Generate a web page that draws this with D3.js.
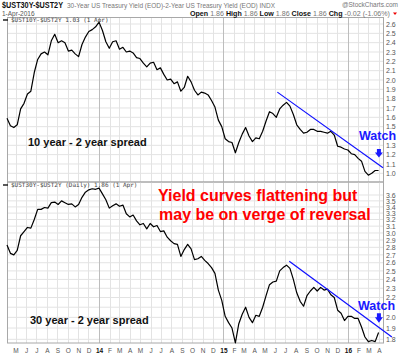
<!DOCTYPE html>
<html><head><meta charset="utf-8">
<script src="https://cdn.jsdelivr.net/npm/d3@7"></script>
<style>body{margin:0;background:#fff} svg{display:block}</style>
</head><body>
<svg id="c" width="400" height="358"></svg>
<script>
// ---------- DATA ----------
const startDate = "2013-04-06";   // first sample
const stepDays = 10;              // sample spacing (days)
const spread10y2y = [
 1.59,1.51,1.49,1.52,1.69,1.75,1.85,1.88,2.08,2.22,
 2.28,2.30,2.27,2.42,2.49,2.40,2.42,2.40,2.31,2.32,
 2.28,2.25,2.38,2.46,2.52,2.54,2.57,2.62,2.53,2.41,
 2.34,2.41,2.42,2.33,2.35,2.30,2.31,2.29,2.24,2.23,
 2.18,2.14,2.18,2.19,2.11,2.13,2.06,2.00,2.01,1.96,
 1.98,1.88,1.92,2.04,1.98,1.89,1.84,1.87,1.86,1.84,
 1.78,1.71,1.57,1.50,1.37,1.34,1.33,1.22,1.33,1.42,
 1.49,1.40,1.34,1.38,1.37,1.45,1.56,1.66,1.64,1.60,
 1.69,1.73,1.76,1.72,1.63,1.52,1.47,1.43,1.44,1.47,
 1.47,1.45,1.45,1.44,1.43,1.45,1.41,1.29,1.28,1.26,
 1.25,1.21,1.20,1.16,1.13,1.02,0.98,1.00,1.03,1.03
];
const spread30y2y = [
 2.83,2.72,2.70,2.76,2.96,3.02,3.08,3.07,3.20,3.36,
 3.36,3.39,3.38,3.47,3.48,3.44,3.50,3.47,3.44,3.45,
 3.40,3.44,3.56,3.65,3.69,3.71,3.70,3.72,3.62,3.52,
 3.38,3.42,3.45,3.41,3.43,3.29,3.24,3.27,3.18,3.12,
 3.14,3.06,3.14,3.09,3.11,3.02,3.03,2.94,2.89,2.85,
 2.84,2.68,2.77,2.84,2.78,2.64,2.65,2.68,2.63,2.59,
 2.54,2.47,2.28,2.17,2.01,1.95,1.90,1.77,1.94,2.03,
 2.10,2.00,1.95,2.02,2.01,2.10,2.22,2.34,2.37,2.38,
 2.50,2.54,2.57,2.53,2.40,2.25,2.16,2.11,2.22,2.27,
 2.31,2.27,2.31,2.28,2.29,2.23,2.20,2.07,2.04,1.97,
 2.01,2.01,1.99,1.99,1.91,1.82,1.78,1.79,1.78,1.86
];
const monthLabels = ["M","J","J","A","S","O","N","D","14","F","M","A","M","J","J","A","S","O",
                     "N","D","15","F","M","A","M","J","J","A","S","O","N","D","16","F","M","A"];
const topTicks = [2.6,2.5,2.4,2.3,2.2,2.1,2.0,1.9,1.8,1.7,1.6,1.5,1.4,1.3,1.2,1.1,1.0];
const bottomTicks = [3.6,3.5,3.4,3.3,3.2,3.1,3.0,2.9,2.8,2.7,2.6,2.5,2.4,2.3,2.2,2.1,2.0,1.9,1.8];
const hiddenTopLabels = [1.4];      // covered by "Watch" in the original
const hiddenBottomLabels = [2.1];
const trendTop = [["2015-06-08",1.87],["2016-04-13",1.06]];
const trendBottom = [["2015-07-13",2.62],["2016-05-09",1.82]];
const arrowTop = ["2016-04-01",1.26,1.17];
const arrowBottom = ["2016-04-01",2.04,1.95];

// ---------- LAYOUT ----------
const L = 7, R = 383;
const P1 = {top:17.5, bottom:182};
const P2 = {top:182, bottom:343};
const parse = d3.utcParse("%Y-%m-%d");
const svg = d3.select("#c");
const font = "'Liberation Sans', Arial, sans-serif";

const x = d3.scaleUtc().domain([parse("2013-04-06"), parse("2016-04-13")]).range([L, R]);
const yTop = d3.scaleLinear().domain([1.0, 2.6]).range([173.3, 24]);
const yBot = d3.scaleLog().domain([1.8, 3.6]).range([339.3, 195]);

const start = parse(startDate);
const dates = spread10y2y.map((_, i) => d3.utcDay.offset(start, i * stepDays));
const months = d3.utcMonth.range(parse("2013-05-01"), parse("2016-05-01"));

// ---------- GRID ----------
function grid(panel, yScale, ticks, hidden) {
  const g = svg.append("g");
  g.selectAll("line.h").data(ticks).join("line")
    .attr("x1", L).attr("x2", R)
    .attr("y1", d => yScale(d)).attr("y2", d => yScale(d))
    .attr("stroke", "#e3e3e3").attr("stroke-width", 1);
  g.selectAll("line.v").data(months).join("line")
    .attr("x1", d => Math.round(x(d)) + 0.5).attr("x2", d => Math.round(x(d)) + 0.5)
    .attr("y1", panel.top).attr("y2", panel.bottom)
    .attr("stroke", d => d.getUTCMonth() === 0 ? "#bdbdbd" : "#e3e3e3").attr("stroke-width", 1);
  g.append("rect").attr("x", L + 0.5).attr("y", panel.top).attr("width", R - L)
    .attr("height", panel.bottom - panel.top).attr("fill", "none")
    .attr("stroke", "#a8a8a8").attr("stroke-width", 1);
  const ax = d3.axisRight(yScale).tickValues(ticks.filter(t => !hidden.includes(t)))
    .tickFormat(d3.format(".1f")).tickSize(0).tickPadding(3);
  const a = svg.append("g").attr("transform", `translate(${R},0)`).call(ax);
  a.select(".domain").remove();
  a.selectAll("text").attr("font-family", font).attr("font-size", 7).attr("fill", "#555");
}
grid(P1, yTop, topTicks, hiddenTopLabels);
grid(P2, yBot, bottomTicks, hiddenBottomLabels);

// ---------- X AXIS ----------
const xa = d3.axisBottom(x).tickValues(months).tickFormat((d, i) => monthLabels[i]).tickSize(0).tickPadding(5);
const xg = svg.append("g").attr("transform", `translate(0,${P2.bottom})`).call(xa);
xg.select(".domain").remove();
xg.selectAll("text").attr("font-family", font).attr("font-size", 6.5)
  .attr("fill", (d) => d.getUTCMonth() === 0 ? "#111" : "#555")
  .attr("font-weight", (d) => d.getUTCMonth() === 0 ? "bold" : "normal");

// ---------- LINES ----------
const lineTop = d3.line().x((d, i) => x(dates[i])).y(d => yTop(d));
const lineBot = d3.line().x((d, i) => x(dates[i])).y(d => yBot(d));
svg.append("path").attr("d", lineTop(spread10y2y)).attr("fill", "none")
  .attr("stroke", "#000").attr("stroke-width", 1.2).attr("stroke-linejoin", "round");
svg.append("path").attr("d", lineBot(spread30y2y)).attr("fill", "none")
  .attr("stroke", "#000").attr("stroke-width", 1.2).attr("stroke-linejoin", "round");

function trend(t, yS) {
  svg.append("line").attr("x1", x(parse(t[0][0]))).attr("y1", yS(t[0][1]))
    .attr("x2", x(parse(t[1][0]))).attr("y2", yS(t[1][1]))
    .attr("stroke", "#1010ff").attr("stroke-width", 1.2);
}
trend(trendTop, yTop);
trend(trendBottom, yBot);

// ---------- ANNOTATIONS ----------
function arrow(a, yS) {
  const cx = x(parse(a[0])), y0 = yS(a[1]), y1 = yS(a[2]);
  const mid = y0 + (y1 - y0) * 0.42;
  svg.append("path")
    .attr("d", `M${cx-2},${y0} L${cx+2},${y0} L${cx+2},${mid} L${cx+4},${mid} L${cx},${y1} L${cx-4},${mid} L${cx-2},${mid} Z`)
    .attr("fill", "#1a1aff");
}
arrow(arrowTop, yTop);
arrow(arrowBottom, yBot);

svg.append("text").attr("x", 359).attr("y", 140).text("Watch")
  .attr("font-family", font).attr("font-weight", "bold").attr("font-size", 12.5).attr("fill", "#1a1aff");
svg.append("text").attr("x", 358).attr("y", 310).text("Watch")
  .attr("font-family", font).attr("font-weight", "bold").attr("font-size", 12.5).attr("fill", "#1a1aff");

svg.append("text").attr("x", 28).attr("y", 145.5).text("10 year - 2 year spread")
  .attr("font-family", font).attr("font-weight", "bold").attr("font-size", 11).attr("fill", "#111");
svg.append("text").attr("x", 30).attr("y", 324).text("30 year - 2 year spread")
  .attr("font-family", font).attr("font-weight", "bold").attr("font-size", 11).attr("fill", "#111");

svg.append("text").attr("x", 158).attr("y", 201).text("Yield curves flattening but")
  .attr("font-family", font).attr("font-weight", "bold").attr("font-size", 16).attr("fill", "#ff0000");
svg.append("text").attr("x", 159).attr("y", 220).text("may be on verge of reversal")
  .attr("font-family", font).attr("font-weight", "bold").attr("font-size", 16).attr("fill", "#ff0000");

// ---------- LEGENDS ----------
const mono = "'DejaVu Sans Mono', 'Liberation Mono', monospace";
function legend(yb, txt) {
  svg.append("line").attr("x1", 3).attr("x2", 8).attr("y1", yb - 2).attr("y2", yb - 2)
    .attr("stroke", "#222").attr("stroke-width", 1.5);
  svg.append("text").attr("x", 11).attr("y", yb).text(txt)
    .attr("font-family", mono).attr("font-size", 6).attr("fill", "#444");
}
legend(22, "$UST10Y-$UST2Y 1.03 (1 Apr)");
legend(187, "$UST30Y-$UST2Y (Daily) 1.86 (1 Apr)");

// ---------- HEADER ----------
svg.append("text").attr("x", 2).attr("y", 8).text("$UST30Y-$UST2Y")
  .attr("font-family", font).attr("font-weight", "bold").attr("font-size", 9).attr("fill", "#111")
  .attr("textLength", 61).attr("lengthAdjust", "spacingAndGlyphs");
svg.append("text").attr("x", 67).attr("y", 8)
  .text("30-Year US Treasury Yield (EOD)-2-Year US Treasury Yield (EOD) INDX")
  .attr("font-family", font).attr("font-size", 7).attr("fill", "#777")
  .attr("textLength", 208).attr("lengthAdjust", "spacingAndGlyphs");
svg.append("text").attr("x", 398).attr("y", 7).attr("text-anchor", "end").text("@StockCharts.com")
  .attr("font-family", font).attr("font-size", 6.5).attr("fill", "#777");
svg.append("text").attr("x", 2).attr("y", 15.5).text("1-Apr-2016")
  .attr("font-family", font).attr("font-size", 6.5).attr("fill", "#555");
const info = svg.append("text").attr("x", 190).attr("y", 15.5)
  .attr("font-family", font).attr("font-size", 6.5)
  .attr("textLength", 200).attr("lengthAdjust", "spacingAndGlyphs");
[["Open", true], [" 1.86 ", false], ["High", true], [" 1.86 ", false], ["Low", true], [" 1.86 ", false],
 ["Close", true], [" 1.86 ", false], ["Chg", true], [" -0.02 (-1.06%)", false]].forEach(([t, b]) => {
  info.append("tspan").text(t).attr("font-weight", b ? "bold" : "normal").attr("fill", b ? "#111" : "#777");
});
svg.append("path").attr("d", "M393,12.5 L397,12.5 L395,15 Z").attr("fill", "#e00");
</script>
</body></html>
